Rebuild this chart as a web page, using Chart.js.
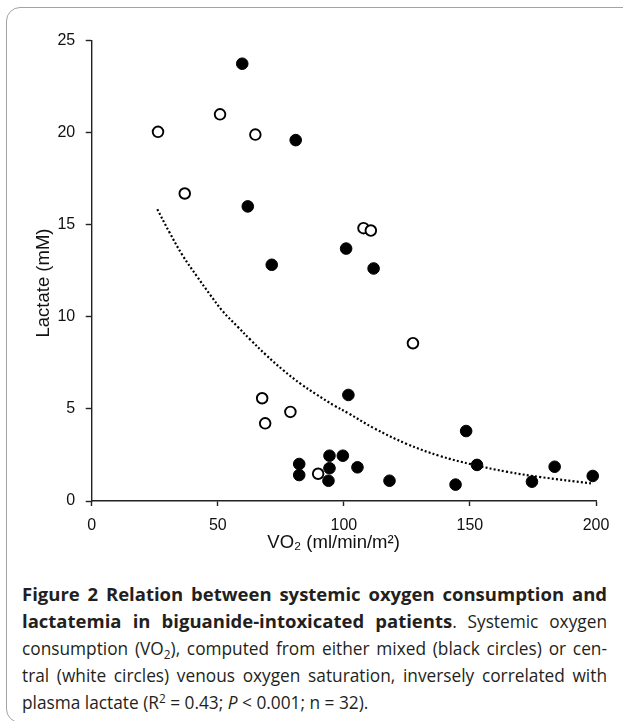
<!DOCTYPE html>
<html>
<head>
<meta charset="utf-8">
<script src="https://cdn.jsdelivr.net/npm/chart.js@4/dist/chart.umd.min.js"></script>
<style>
  html, body { margin: 0; padding: 0; background: #fff; width: 623px; height: 721px; overflow: hidden; }
  #frame { position: absolute; left: 6px; top: 7px; width: 640px; height: 716px; border: 1.5px solid #a3a3a3; border-radius: 14px; box-sizing: border-box; }
  #chart { position: absolute; left: 0; top: 0; }
  #caption { position: absolute; left: 22px; top: 580px; width: 585px; font-family: "Open Sans", "Noto Sans", sans-serif; font-size: 17.3px; line-height: 27.3px; color: #231f20; }
  #caption div { white-space: nowrap; text-align: justify; text-align-last: justify; height: 27.3px; }
  #caption div.last { text-align: left; text-align-last: left; }
  #caption b { font-size: 18.5px; }
  #caption sub, #caption sup { font-size: 0.68em; line-height: 0; }
  #caption sub { vertical-align: -0.3em; }
  #caption sup { vertical-align: 0.5em; }
</style>
</head>
<body>
<div id="frame"></div>
<canvas id="chart" width="623" height="560"></canvas>
<div id="caption">
  <div><b>Figure 2 Relation between systemic oxygen consumption and</b></div>
  <div><b>lactatemia in biguanide-intoxicated patients</b>. Systemic oxygen</div>
  <div>consumption (VO<sub>2</sub>), computed from either mixed (black circles) or cen-</div>
  <div>tral (white circles) venous oxygen saturation, inversely correlated with</div>
  <div class="last">plasma lactate (R<sup>2</sup> = 0.43; <i>P</i> &lt; 0.001; n = 32).</div>
</div>
<script>
// Mixed venous (black circles)
const mixedVO2 = [59.7, 80.9, 61.9, 71.4, 100.9, 111.8, 82.3, 82.3, 101.8, 148.5, 94.3, 99.6, 94.3, 105.4, 93.9, 118.1, 144.3, 152.8, 174.6, 183.6, 198.7];
const mixedLactate = [23.75, 19.6, 16.0, 12.83, 13.71, 12.63, 2.01, 1.41, 5.76, 3.8, 2.46, 2.46, 1.78, 1.83, 1.10, 1.10, 0.89, 1.96, 1.05, 1.86, 1.36];
// Central venous (white circles)
const centralVO2 = [26.3, 50.9, 64.9, 36.9, 107.8, 110.7, 67.6, 68.8, 78.8, 89.8, 127.4];
const centralLactate = [20.05, 21.0, 19.9, 16.7, 14.82, 14.69, 5.58, 4.22, 4.84, 1.48, 8.57];
// Dotted trend curve
const trendVO2 = [26, 31, 36, 42, 47, 52, 58, 63, 69, 76, 83, 89, 96, 102, 112, 125, 138, 151, 165, 178, 198];
const trendLactate = [15.85, 14.55, 13.35, 12.15, 11.2, 10.3, 9.45, 8.75, 7.95, 7.1, 6.35, 5.8, 5.2, 4.75, 3.95, 3.1, 2.45, 1.98, 1.58, 1.3, 0.96];
// Axes
const xTicks = [0, 50, 100, 150, 200];
const yTicks = [0, 5, 10, 15, 20, 25];
// trailing no-break spaces nudge the centred titles as in the original figure
const xTitle = 'VO\u2082 (ml/min/m\u00B2)\u00A0\u00A0\u00A0\u00A0';
const yTitle = 'Lactate (mM)\u00A0\u00A0\u00A0\u00A0\u2009';

const toPts = (xs, ys) => xs.map((x, i) => ({ x: x, y: ys[i] }));

const axisColor = '#222222';
const tickFont = { family: '"Liberation Sans", Arial, sans-serif', size: 16 };
const titleFont = { family: '"Liberation Sans", Arial, sans-serif', size: 18.5 };

new Chart(document.getElementById('chart'), {
  type: 'scatter',
  data: {
    datasets: [
      {
        label: 'Central venous',
        data: toPts(centralVO2, centralLactate),
        pointRadius: 5.3,
        pointBackgroundColor: '#ffffff',
        pointBorderColor: '#000000',
        pointBorderWidth: 1.9,
        order: 0,
        clip: false
      },
      {
        label: 'Mixed venous',
        data: toPts(mixedVO2, mixedLactate),
        pointRadius: 5.8,
        pointBackgroundColor: '#000000',
        pointBorderColor: '#000000',
        pointBorderWidth: 1,
        order: 1,
        clip: false
      },
      {
        label: 'Trend',
        type: 'line',
        data: toPts(trendVO2, trendLactate),
        showLine: true,
        pointRadius: 0,
        borderColor: '#000000',
        borderWidth: 2.2,
        borderDash: [2, 2.2],
        tension: 0.4,
        fill: false,
        order: 2,
        clip: false
      }
    ]
  },
  options: {
    responsive: false,
    animation: false,
    events: [],
    layout: { padding: { top: 40.7, right: 27, left: 0, bottom: 0 } },
    plugins: { legend: { display: false }, tooltip: { enabled: false } },
    scales: {
      x: {
        type: 'linear',
        min: 0, max: 200,
        afterBuildTicks: (s) => { s.ticks = xTicks.map(v => ({ value: v })); },
        afterFit: (s) => { s.height = 59; },
        grid: { drawOnChartArea: false, drawTicks: true, tickLength: 5, color: axisColor, tickWidth: 1.4 },
        border: { display: true, color: axisColor, width: 1.4 },
        ticks: { color: '#111', font: tickFont, padding: 9.5, maxRotation: 0 },
        title: { display: true, text: xTitle, color: '#111', font: titleFont, padding: { top: 0, bottom: 5.6 } }
      },
      y: {
        type: 'linear',
        min: 0, max: 25,
        afterBuildTicks: (s) => { s.ticks = yTicks.map(v => ({ value: v })); },
        afterFit: (s) => { s.width = 91.7; },
        grid: { drawOnChartArea: false, drawTicks: true, tickLength: 6, color: axisColor, tickWidth: 1.4 },
        border: { display: true, color: axisColor, width: 1.4 },
        ticks: { color: '#111', font: tickFont, padding: 10.5 },
        title: { display: true, text: yTitle, color: '#111', font: titleFont, padding: { top: 32.9, bottom: 0 } }
      }
    }
  }
});
</script>
</body>
</html>
